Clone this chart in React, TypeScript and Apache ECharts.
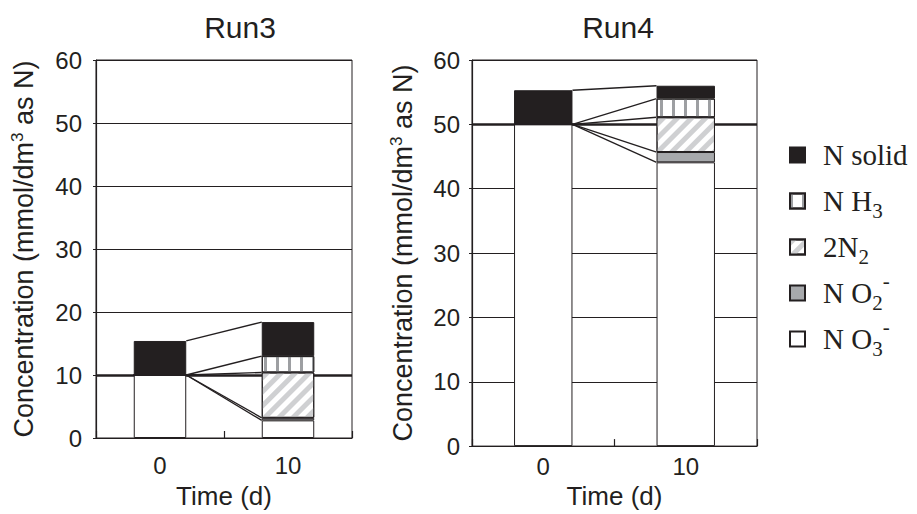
import React, { useEffect, useRef } from 'react';
import * as echarts from 'echarts';

// ---------- data ----------
const days = ['0', '10'];
const yMin = 0;
const yMax = 60;
const yStep = 10;

// Run3 (mmol/dm3 as N), stacked bottom -> top
const run3NO3 = [10, 2.8];
const run3NO2 = [0, 0.4];
const run3N2 = [0, 7.2];
const run3NH3 = [0, 2.6];
const run3Solid = [5.4, 5.4];

// Run4
const run4NO3 = [50, 44.1];
const run4NO2 = [0, 1.6];
const run4N2 = [0, 5.4];
const run4NH3 = [0, 2.9];
const run4Solid = [5.3, 2.0];

const runTitles = ['Run3', 'Run4'];
const legendOrder = ['N solid', 'NH3', '2N2', 'NO2-', 'NO3-'];
const legendLabels: Record<string, string> = {
  'N solid': 'N solid',
  NH3: 'N H{sub|3}',
  '2N2': '2N{sub|2}',
  'NO2-': 'N O{sub|2}{sup|-}',
  'NO3-': 'N O{sub|3}{sup|-}',
};

// ---------- styles ----------
const INK = '#231f20';
const SANS = 'Liberation Sans, Arial, sans-serif';
const SERIF = 'Liberation Serif, Times New Roman, serif';
const BAR_FRAC = 0.41;

const styleFor: Record<string, any> = {
  'NO3-': { color: '#ffffff' },
  'NO2-': { color: '#a7a9ac' },
  '2N2': {
    color: '#ffffff',
    decal: {
      symbol: 'rect',
      symbolSize: 1,
      color: '#cfd0d2',
      dashArrayX: [5, 5],
      dashArrayY: [10, 0],
      rotation: Math.PI / 4,
    },
  },
  NH3: {
    color: '#ffffff',
    decal: {
      symbol: 'rect',
      symbolSize: 1,
      color: '#9d9fa2',
      dashArrayX: [3, 9],
      dashArrayY: [12, 0],
      rotation: 0,
    },
  },
  'N solid': { color: INK },
};

type Part = { name: string; values: number[] };

function buildRun(idx: number, parts: Part[]) {
  const series: any[] = parts.map((p, i) => ({
    name: p.name,
    type: 'bar',
    stack: 'run' + idx,
    xAxisIndex: idx,
    yAxisIndex: idx,
    barWidth: BAR_FRAC * 100 + '%',
    data: p.values,
    z: 2,
    itemStyle: { ...styleFor[p.name], borderColor: INK, borderWidth: 1 },
    markLine:
      i === 0
        ? {
            silent: true,
            z: 1,
            symbol: 'none',
            label: { show: false },
            lineStyle: { color: INK, width: 2.5, type: 'solid' },
            data: [{ yAxis: p.values[0] }],
          }
        : undefined,
  }));
  // cumulative tops
  const cum = (d: number) => {
    let s = 0;
    return parts.map((p) => (s += p.values[d]));
  };
  const c0 = cum(0);
  const c1 = cum(1);
  const links: [number, number][] = [[c0[c0.length - 1], c1[c1.length - 1]]];
  for (let k = 0; k < parts.length - 1; k++) links.push([c0[0], c1[k]]);
  series.push({
    name: 'links' + idx,
    type: 'custom',
    xAxisIndex: idx,
    yAxisIndex: idx,
    silent: true,
    z: 4,
    data: [[0, 0]],
    renderItem: (_params: any, api: any) => {
      const band = api.size([1, 0])[0];
      const half = (band * BAR_FRAC) / 2;
      const xa = api.coord([0, 0])[0] + half;
      const xb = api.coord([1, 0])[0] - half;
      return {
        type: 'group',
        children: links.map(([va, vb]) => ({
          type: 'line',
          shape: { x1: xa, y1: api.coord([0, va])[1], x2: xb, y2: api.coord([1, vb])[1] },
          style: { stroke: INK, lineWidth: 1.3 },
        })),
      };
    },
  });
  return series;
}

const grids = [
  { left: 96, top: 60, width: 256, height: 383 },
  { left: 472, top: 60, width: 285, height: 391 },
];
const xLabelMargin = [15, 8];
const xNameGap = [45, 32];
const yLabelMargin = [14, 12];
const yNameGap = [58, 55];
const titleCenters = [240, 618];

export default function App() {
  const ref = useRef<HTMLDivElement>(null);
  useEffect(() => {
    if (!ref.current) return;
    const chart = echarts.init(ref.current, undefined, { renderer: 'svg' });
    const run3 = buildRun(0, [
      { name: 'NO3-', values: run3NO3 },
      { name: 'NO2-', values: run3NO2 },
      { name: '2N2', values: run3N2 },
      { name: 'NH3', values: run3NH3 },
      { name: 'N solid', values: run3Solid },
    ]);
    const run4 = buildRun(1, [
      { name: 'NO3-', values: run4NO3 },
      { name: 'NO2-', values: run4NO2 },
      { name: '2N2', values: run4N2 },
      { name: 'NH3', values: run4NH3 },
      { name: 'N solid', values: run4Solid },
    ]);
    const option: any = {
      animation: false,
      backgroundColor: '#ffffff',
      title: runTitles.map((t, i) => ({
        text: t,
        left: titleCenters[i],
        top: 12,
        textAlign: 'center',
        padding: 0,
        textStyle: { fontSize: 30, fontWeight: 'normal', color: INK, fontFamily: SANS },
      })),
      grid: grids.map((g) => ({ ...g, show: true, borderColor: INK, borderWidth: 1, containLabel: false })),
      xAxis: grids.map((_g, i) => ({
        type: 'category',
        gridIndex: i,
        data: days,
        axisLine: { lineStyle: { color: INK, width: 1.2 } },
        axisTick: { show: true, inside: true, length: 7, interval: 0, lineStyle: { color: INK, width: 1.2 } },
        axisLabel: { fontSize: 24, color: INK, fontFamily: SANS, margin: xLabelMargin[i] },
        name: 'Time (d)',
        nameLocation: 'middle',
        nameGap: xNameGap[i],
        nameTextStyle: { fontSize: 26, color: INK, fontFamily: SANS },
        splitLine: { show: false },
      })),
      yAxis: grids.map((_g, i) => ({
        type: 'value',
        gridIndex: i,
        min: yMin,
        max: yMax,
        interval: yStep,
        axisLine: { show: true, lineStyle: { color: INK, width: 1.2 } },
        axisTick: { show: true, length: 3, lineStyle: { color: INK } },
        axisLabel: { fontSize: 24, color: INK, fontFamily: SANS, margin: yLabelMargin[i] },
        splitLine: { show: true, lineStyle: { color: INK, width: 1 } },
        name: 'Concentration (mmol/dm{sup|3} as N)',
        nameLocation: 'middle',
        nameRotate: 90,
        nameGap: yNameGap[i],
        nameTextStyle: {
          fontSize: 27,
          color: INK,
          fontFamily: SANS,
          rich: {
            sup: { fontSize: 17, color: INK, fontFamily: SANS, padding: [0, 0, 12, 0] },
          },
        },
      })),
      legend: {
        orient: 'vertical',
        left: 789,
        top: 132,
        padding: 0,
        itemGap: 0,
        itemWidth: 15,
        itemHeight: 15,
        icon: 'rect',
        selectedMode: false,
        data: legendOrder,
        formatter: (name: string) => legendLabels[name] || name,
        textStyle: {
          fontFamily: SERIF,
          fontSize: 29,
          lineHeight: 46,
          color: INK,
          padding: [0, 0, 0, 13],
          rich: {
            sub: { fontFamily: SERIF, fontSize: 21, color: INK, padding: [20, 0, 0, 0] },
            sup: { fontFamily: SERIF, fontSize: 21, color: INK, padding: [0, 0, 25, 0] },
          },
        },
      },
      series: [...run3, ...run4],
    };
    chart.setOption(option);
    return () => chart.dispose();
  }, []);
  return (
    <div
      ref={ref}
      style={{ position: 'fixed', left: 0, top: 0, width: 917, height: 514, background: '#fff' }}
    />
  );
}
